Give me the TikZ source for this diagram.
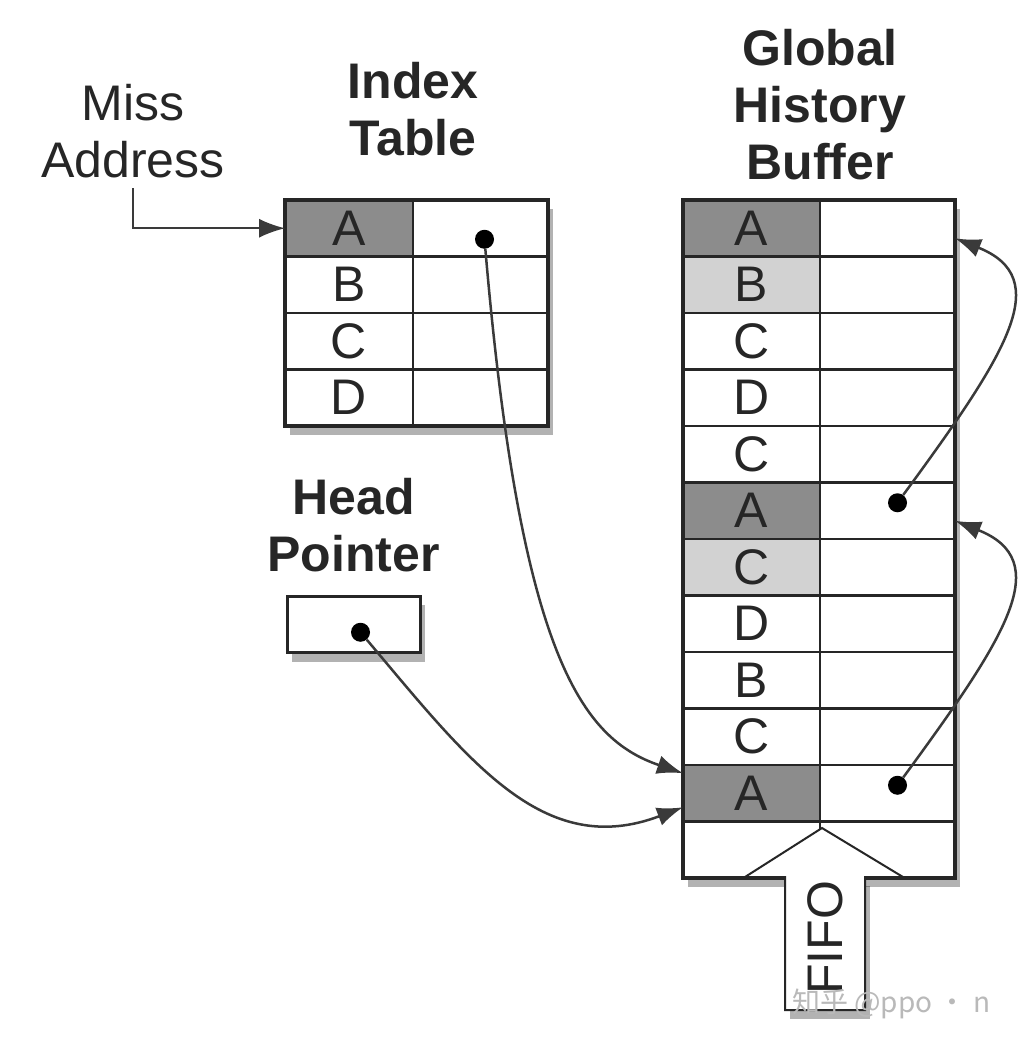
\documentclass[tikz,border=0pt]{standalone}
\usepackage{fontspec}
\setmainfont{Liberation Sans}
\newfontfamily\cjkfont{Noto Sans CJK SC}
\usetikzlibrary{arrows.meta,positioning,fit,backgrounds,shadows}
\definecolor{GHBDark}{HTML}{8C8C8C}
\definecolor{GHBLight}{HTML}{D2D2D2}
\definecolor{GHBLine}{HTML}{262626}
\definecolor{GHBWire}{HTML}{3A3A3A}

\begin{document}
\begin{tikzpicture}[x=1pt,y=-1pt,
  txt/.style={font=\fontsize{50}{57}\selectfont,align=center,inner sep=0pt,text=GHBLine},
  ttl/.style={txt,font=\fontsize{50}{57}\selectfont\bfseries},
  cell/.style={draw=GHBLine,line width=2.5pt,fill=white,outer sep=0pt,inner sep=0pt,minimum height=56.5pt},
  key/.style={cell,minimum width=137pt,font=\fontsize{50}{57}\selectfont,text=GHBLine},
  ikey/.style={key,minimum width=128pt},
  ptr/.style={cell,minimum width=135pt},
  hit/.style={fill=GHBDark},
  near/.style={fill=GHBLight},
  frame/.style={draw=GHBLine,line width=3.5pt,inner sep=0pt},
  dot/.style={circle,fill=black,inner sep=0pt,minimum size=19pt},
  wire/.style={draw=GHBWire,line width=2.5pt,-{Latex[length=26pt,width=19pt]}},
  shade/.style={drop shadow={shadow xshift=5pt,shadow yshift=-9pt,opacity=0.3,fill=black}},
]
\useasboundingbox (0,0) rectangle (1024,1053);

% index table
\node[ikey,hit,anchor=north west] (ik0) at (285,200) {A};
\node[ikey,below=0pt of ik0] (ik1) {B};
\node[ikey,below=0pt of ik1] (ik2) {C};
\node[ikey,below=0pt of ik2] (ik3) {D};
\node[ptr,right=0pt of ik0] (ip0) {};
\node[ptr,right=0pt of ik1] (ip1) {};
\node[ptr,right=0pt of ik2] (ip2) {};
\node[ptr,right=0pt of ik3] (ip3) {};
\node[frame,fit=(ik0)(ip3)] (iframe) {};
\node[ttl,above=44pt of ik0.north east] (ttlidx) {Index\\Table};

% global history buffer
\node[key,hit,anchor=north west] (gk0) at (683,200) {A};
\node[key,near,below=0pt of gk0] (gk1) {B};
\node[key,below=0pt of gk1] (gk2) {C};
\node[key,below=0pt of gk2] (gk3) {D};
\node[key,below=0pt of gk3] (gk4) {C};
\node[key,hit,below=0pt of gk4] (gk5) {A};
\node[key,near,below=0pt of gk5] (gk6) {C};
\node[key,below=0pt of gk6] (gk7) {D};
\node[key,below=0pt of gk7] (gk8) {B};
\node[key,below=0pt of gk8] (gk9) {C};
\node[key,hit,below=0pt of gk9] (gk10) {A};
\node[key,below=0pt of gk10] (gk11) {};
\node[ptr,right=0pt of gk0] (gp0) {};
\node[ptr,right=0pt of gk1] (gp1) {};
\node[ptr,right=0pt of gk2] (gp2) {};
\node[ptr,right=0pt of gk3] (gp3) {};
\node[ptr,right=0pt of gk4] (gp4) {};
\node[ptr,right=0pt of gk5] (gp5) {};
\node[ptr,right=0pt of gk6] (gp6) {};
\node[ptr,right=0pt of gk7] (gp7) {};
\node[ptr,right=0pt of gk8] (gp8) {};
\node[ptr,right=0pt of gk9] (gp9) {};
\node[ptr,right=0pt of gk10] (gp10) {};
\node[ptr,right=0pt of gk11] (gp11) {};
\node[frame,fit=(gk0)(gp11)] (gframe) {};
\node[ttl,above=20pt of gk0.north east] (ttlghb) {Global\\History\\Buffer};

\begin{scope}[on background layer]
\fill[white] (0,0) rectangle (1024,1053);
\node[fit=(ik0)(ip3),inner sep=0pt,fill=white,shade] (itbl) {};
\node[fit=(gk0)(gp11),inner sep=0pt,fill=white,shade] (gtbl) {};
\end{scope}

% head pointer and miss address
\node[ptr,line width=3pt,minimum width=133pt,anchor=north west,shade] (hp) at (287,596) {};
\node[ttl,above=24pt of hp] (ttlhp) {Head\\Pointer};
\node[txt,anchor=south] (miss) at (133,178) {Miss\\Address};

% pointers
\node[dot] (d0) at ([xshift=4pt,yshift=-11pt]ip0.center) {};
\node[dot] (d5) at ([xshift=10pt,yshift=8pt]gp5.center) {};
\node[dot] (d10) at ([xshift=10pt,yshift=8pt]gp10.center) {};
\node[dot] (dh) at ([xshift=7pt,yshift=-8pt]hp.center) {};
\coordinate (t1) at ([yshift=20pt]gk10.west);
\coordinate (t2) at ([yshift=-14pt]gk10.west);
\coordinate (t3) at ([yshift=-10pt]gp5.east);
\coordinate (t4) at ([yshift=-10pt]gp0.east);

\draw[wire,line width=1.8pt,shorten <=10pt] (miss.south) |- (ik0.west);
\draw[wire] (d0) .. controls +(36,420) and +(-100,-34) .. (t1);
\draw[wire] (dh) .. controls +(108,128) and +(-140,53) .. (t2);
\draw[wire] (d10) .. controls +(110,-150) and +(100,40) .. (t3);
\draw[wire] (d5) .. controls +(110,-150) and +(100,40) .. (t4);

% fifo arrow
\fill[white,shade] (785,877) rectangle (865,1010);
\filldraw[fill=white,draw=GHBLine,line width=2pt] (785,1010) -- (785,877) -- (745,877) -- (822,828) -- (903,877) -- (865,877) -- (865,1010) -- cycle;
\node[txt,rotate=90] (fifo) at (825,938) {FIFO};
\node[font=\cjkfont\fontsize{28}{30}\selectfont,text=gray!55,anchor=west,inner sep=0pt] (wm) at (792,1004) {知乎 @ppo · n};
\end{tikzpicture}
\end{document}
